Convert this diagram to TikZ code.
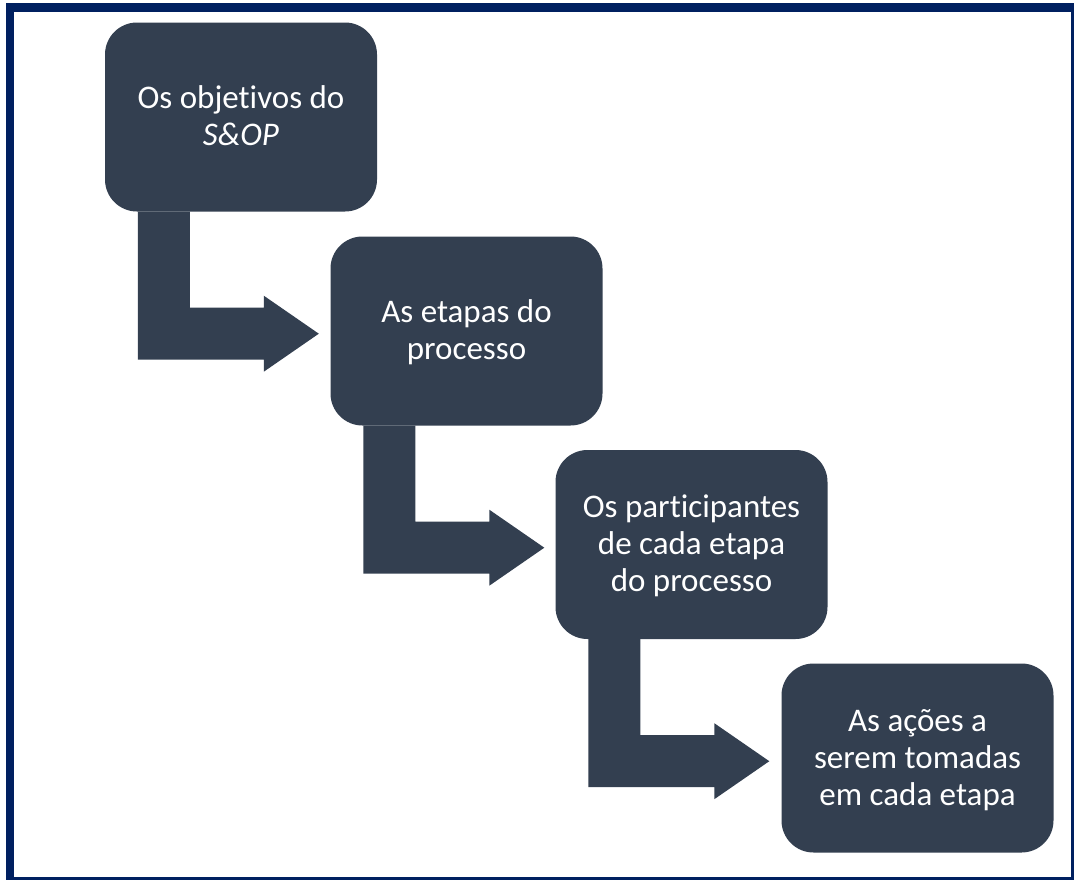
\documentclass[tikz,border=0pt]{standalone}
\usepackage{fontspec}
\setmainfont{Carlito}[RawFeature={-liga;-clig;-calt;-dlig}]
\usetikzlibrary{calc}

\definecolor{boxfill}{HTML}{333F50}
\definecolor{framenavy}{HTML}{002060}

% invisible rule giving every text line the same height and depth
\newcommand{\linestrut}{\rule[-8.5pt]{0pt}{37pt}}

\tikzset{
  stagebox/.style={
    fill=boxfill, draw=none, rounded corners=32pt,
    minimum width=272pt, minimum height=189pt, inner sep=0pt,
    text=white, align=center, font=\fontsize{33}{37}\selectfont
  },
  bentarrow/.style={fill=boxfill, draw=none}
}

% bent arrow leaving the lower left corner of a box and pointing right
\newcommand{\bentarrowfrom}[1]{%
  \fill[bentarrow] ($(#1.south west)+(33,0)$) -- ++(52,0) -- ++(0,96) -- ++(74,0)
    -- ++(0,-12) -- ++(55,38) -- ++(-55,38) -- ++(0,-12) -- ++(-126,0) -- cycle;}

\begin{document}
\begin{tikzpicture}[x=1pt, y=-1pt]
  \useasboundingbox (0,0) rectangle (1074,879);
  \fill[white] (0,0) rectangle (1074,879);
  \begin{scope}
    \clip (0,0) rectangle (1074,879);
    \draw[framenavy, line width=8.5pt] (9.75,7.25) rectangle (1074.75,880.75);
  \end{scope}

  \node[stagebox] (b1) at (241,117)   {Os objetivos do\linestrut\\\textit{S\&OP}\linestrut};
  \node[stagebox] (b2) at (466.5,331) {As etapas do\linestrut\\processo\linestrut};
  \node[stagebox] (b3) at (691.5,544.5) {Os participantes\linestrut\\de cada etapa\linestrut\\do processo\linestrut};
  \node[stagebox] (b4) at (917.5,758) {As ações a\linestrut\\serem tomadas\linestrut\\em cada etapa\linestrut};

  \bentarrowfrom{b1}
  \bentarrowfrom{b2}
  \bentarrowfrom{b3}
\end{tikzpicture}
\end{document}
